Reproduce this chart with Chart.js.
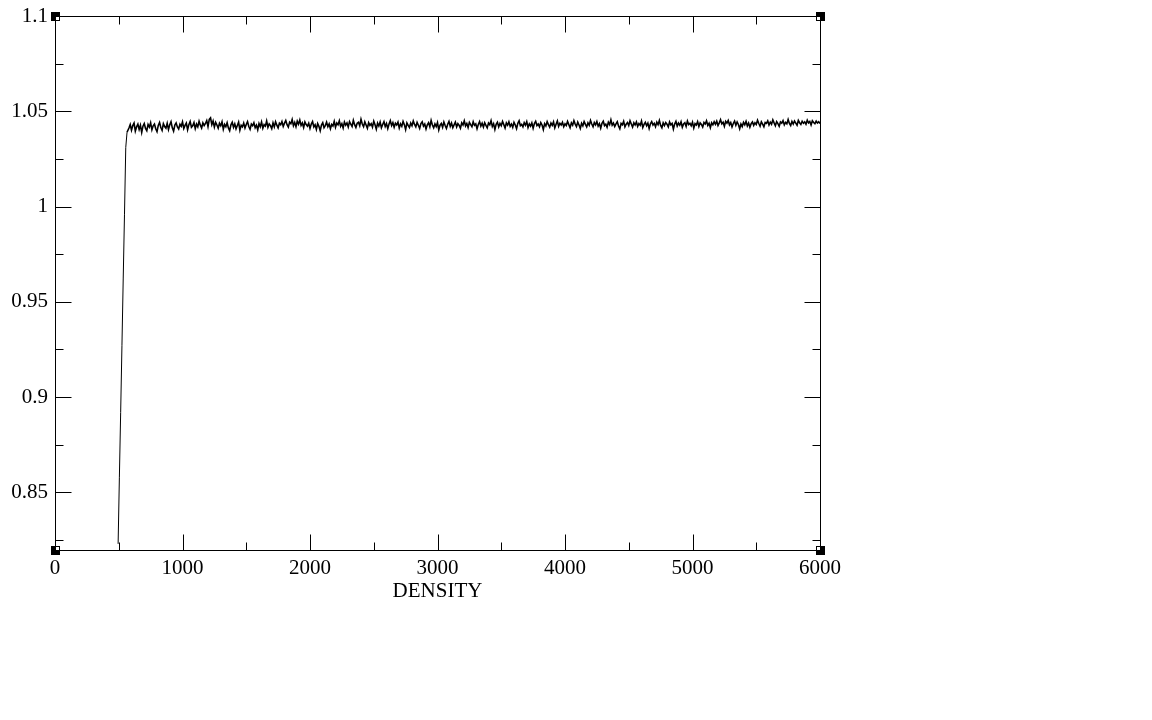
<!DOCTYPE html>
<html>
<head>
<meta charset="utf-8">
<script src="https://cdn.jsdelivr.net/npm/chart.js@4/dist/chart.umd.min.js"></script>
<style>
  html, body { margin: 0; padding: 0; background: #fff; }
  #wrap { width: 1152px; height: 720px; }
</style>
</head>
<body>
<div id="wrap"><canvas id="c" width="1152" height="720"></canvas></div>
<script>
// ---- data ----
const riseDensity = [495, 505, 515, 525, 535, 545, 555, 565];
const riseValue   = [0.823, 0.858, 0.892, 0.927, 0.962, 0.996, 1.031, 1.039];

const plateauDensity = [
  580,590,600,610,620,630,640,650,660,670,
  680,690,700,710,720,730,740,750,760,770,
  780,790,800,810,820,830,840,850,860,870,
  880,890,900,910,920,930,940,950,960,970,
  980,990,1000,1010,1020,1030,1040,1050,1060,1070,
  1080,1090,1100,1110,1120,1130,1140,1150,1160,1170,
  1180,1190,1200,1210,1220,1230,1240,1250,1260,1270,
  1280,1290,1300,1310,1320,1330,1340,1350,1360,1370,
  1380,1390,1400,1410,1420,1430,1440,1450,1460,1470,
  1480,1490,1500,1510,1520,1530,1540,1550,1560,1570,
  1580,1590,1600,1610,1620,1630,1640,1650,1660,1670,
  1680,1690,1700,1710,1720,1730,1740,1750,1760,1770,
  1780,1790,1800,1810,1820,1830,1840,1850,1860,1870,
  1880,1890,1900,1910,1920,1930,1940,1950,1960,1970,
  1980,1990,2000,2010,2020,2030,2040,2050,2060,2070,
  2080,2090,2100,2110,2120,2130,2140,2150,2160,2170,
  2180,2190,2200,2210,2220,2230,2240,2250,2260,2270,
  2280,2290,2300,2310,2320,2330,2340,2350,2360,2370,
  2380,2390,2400,2410,2420,2430,2440,2450,2460,2470,
  2480,2490,2500,2510,2520,2530,2540,2550,2560,2570,
  2580,2590,2600,2610,2620,2630,2640,2650,2660,2670,
  2680,2690,2700,2710,2720,2730,2740,2750,2760,2770,
  2780,2790,2800,2810,2820,2830,2840,2850,2860,2870,
  2880,2890,2900,2910,2920,2930,2940,2950,2960,2970,
  2980,2990,3000,3010,3020,3030,3040,3050,3060,3070,
  3080,3090,3100,3110,3120,3130,3140,3150,3160,3170,
  3180,3190,3200,3210,3220,3230,3240,3250,3260,3270,
  3280,3290,3300,3310,3320,3330,3340,3350,3360,3370,
  3380,3390,3400,3410,3420,3430,3440,3450,3460,3470,
  3480,3490,3500,3510,3520,3530,3540,3550,3560,3570,
  3580,3590,3600,3610,3620,3630,3640,3650,3660,3670,
  3680,3690,3700,3710,3720,3730,3740,3750,3760,3770,
  3780,3790,3800,3810,3820,3830,3840,3850,3860,3870,
  3880,3890,3900,3910,3920,3930,3940,3950,3960,3970,
  3980,3990,4000,4010,4020,4030,4040,4050,4060,4070,
  4080,4090,4100,4110,4120,4130,4140,4150,4160,4170,
  4180,4190,4200,4210,4220,4230,4240,4250,4260,4270,
  4280,4290,4300,4310,4320,4330,4340,4350,4360,4370,
  4380,4390,4400,4410,4420,4430,4440,4450,4460,4470,
  4480,4490,4500,4510,4520,4530,4540,4550,4560,4570,
  4580,4590,4600,4610,4620,4630,4640,4650,4660,4670,
  4680,4690,4700,4710,4720,4730,4740,4750,4760,4770,
  4780,4790,4800,4810,4820,4830,4840,4850,4860,4870,
  4880,4890,4900,4910,4920,4930,4940,4950,4960,4970,
  4980,4990,5000,5010,5020,5030,5040,5050,5060,5070,
  5080,5090,5100,5110,5120,5130,5140,5150,5160,5170,
  5180,5190,5200,5210,5220,5230,5240,5250,5260,5270,
  5280,5290,5300,5310,5320,5330,5340,5350,5360,5370,
  5380,5390,5400,5410,5420,5430,5440,5450,5460,5470,
  5480,5490,5500,5510,5520,5530,5540,5550,5560,5570,
  5580,5590,5600,5610,5620,5630,5640,5650,5660,5670,
  5680,5690,5700,5710,5720,5730,5740,5750,5760,5770,
  5780,5790,5800,5810,5820,5830,5840,5850,5860,5870,
  5880,5890,5900,5910,5920,5930,5940,5950,5960,5970,
  5980,5990,6000
];
const plateauValue = [
  1.0412,1.0430,1.0401,1.0425,1.0438,1.0396,1.0419,1.0433,1.0405,1.0427,
  1.0389,1.0422,1.0436,1.0410,1.0398,1.0431,1.0417,1.0440,1.0403,1.0424,
  1.0433,1.0408,1.0393,1.0426,1.0441,1.0415,1.0400,1.0435,1.0420,1.0411,
  1.0437,1.0404,1.0429,1.0445,1.0413,1.0396,1.0428,1.0439,1.0418,1.0407,
  1.0432,1.0421,1.0444,1.0410,1.0426,1.0438,1.0403,1.0430,1.0447,1.0416,
  1.0424,1.0441,1.0409,1.0433,1.0419,1.0448,1.0427,1.0412,1.0439,1.0425,
  1.0436,1.0451,1.0420,1.0458,1.0466,1.0430,1.0449,1.0417,1.0442,1.0428,
  1.0411,1.0437,1.0424,1.0445,1.0406,1.0431,1.0419,1.0440,1.0413,1.0398,
  1.0429,1.0442,1.0416,1.0434,1.0408,1.0425,1.0443,1.0401,1.0427,1.0418,
  1.0438,1.0412,1.0431,1.0446,1.0420,1.0405,1.0433,1.0424,1.0440,1.0414,
  1.0427,1.0403,1.0436,1.0419,1.0444,1.0411,1.0430,1.0422,1.0449,1.0416,
  1.0434,1.0425,1.0409,1.0439,1.0418,1.0445,1.0427,1.0413,1.0437,1.0429,
  1.0446,1.0421,1.0438,1.0452,1.0430,1.0417,1.0443,1.0435,1.0457,1.0424,
  1.0441,1.0419,1.0448,1.0432,1.0454,1.0426,1.0439,1.0415,1.0444,1.0430,
  1.0422,1.0437,1.0410,1.0433,1.0446,1.0418,1.0429,1.0405,1.0436,1.0421,
  1.0398,1.0428,1.0440,1.0414,1.0425,1.0443,1.0419,1.0434,1.0408,1.0431,
  1.0423,1.0447,1.0416,1.0438,1.0429,1.0450,1.0421,1.0435,1.0412,1.0444,
  1.0427,1.0439,1.0418,1.0446,1.0432,1.0420,1.0453,1.0430,1.0415,1.0437,
  1.0442,1.0424,1.0458,1.0433,1.0419,1.0445,1.0428,1.0411,1.0440,1.0426,
  1.0435,1.0417,1.0448,1.0429,1.0406,1.0438,1.0423,1.0444,1.0414,1.0431,
  1.0446,1.0420,1.0436,1.0409,1.0433,1.0451,1.0425,1.0440,1.0416,1.0437,
  1.0428,1.0443,1.0412,1.0434,1.0421,1.0447,1.0430,1.0404,1.0439,1.0426,
  1.0415,1.0438,1.0424,1.0449,1.0431,1.0418,1.0442,1.0427,1.0410,1.0436,
  1.0445,1.0422,1.0433,1.0407,1.0429,1.0440,1.0419,1.0452,1.0428,1.0413,
  1.0434,1.0420,1.0441,1.0403,1.0427,1.0436,1.0416,1.0444,1.0425,1.0410,
  1.0432,1.0447,1.0421,1.0438,1.0414,1.0429,1.0443,1.0418,1.0435,1.0426,
  1.0411,1.0439,1.0428,1.0450,1.0423,1.0436,1.0415,1.0442,1.0430,1.0419,
  1.0445,1.0427,1.0434,1.0408,1.0431,1.0446,1.0422,1.0437,1.0417,1.0440,
  1.0426,1.0413,1.0438,1.0429,1.0451,1.0420,1.0435,1.0405,1.0432,1.0443,
  1.0418,1.0436,1.0424,1.0447,1.0430,1.0412,1.0439,1.0427,1.0445,1.0421,
  1.0433,1.0416,1.0442,1.0428,1.0409,1.0437,1.0450,1.0424,1.0431,1.0418,
  1.0440,1.0427,1.0446,1.0415,1.0434,1.0422,1.0439,1.0411,1.0436,1.0448,
  1.0425,1.0433,1.0419,1.0441,1.0428,1.0404,1.0435,1.0423,1.0446,1.0430,
  1.0417,1.0438,1.0426,1.0444,1.0413,1.0432,1.0449,1.0421,1.0437,1.0428,
  1.0442,1.0419,1.0434,1.0425,1.0447,1.0430,1.0414,1.0439,1.0427,1.0451,
  1.0433,1.0420,1.0443,1.0428,1.0410,1.0437,1.0424,1.0446,1.0431,1.0418,
  1.0439,1.0426,1.0452,1.0433,1.0419,1.0441,1.0429,1.0446,1.0422,1.0435,
  1.0411,1.0437,1.0448,1.0425,1.0432,1.0416,1.0443,1.0430,1.0455,1.0427,
  1.0438,1.0420,1.0434,1.0445,1.0423,1.0408,1.0436,1.0429,1.0447,1.0418,
  1.0432,1.0441,1.0425,1.0450,1.0433,1.0417,1.0440,1.0428,1.0444,1.0421,
  1.0436,1.0427,1.0449,1.0415,1.0431,1.0442,1.0424,1.0438,1.0410,1.0434,
  1.0446,1.0428,1.0437,1.0419,1.0443,1.0430,1.0452,1.0426,1.0413,1.0439,
  1.0425,1.0441,1.0432,1.0418,1.0444,1.0429,1.0436,1.0407,1.0433,1.0447,
  1.0422,1.0438,1.0427,1.0445,1.0416,1.0434,1.0440,1.0421,1.0449,1.0430,
  1.0437,1.0424,1.0443,1.0412,1.0435,1.0428,1.0446,1.0420,1.0439,1.0431,
  1.0417,1.0441,1.0433,1.0450,1.0426,1.0437,1.0414,1.0440,1.0429,1.0445,
  1.0432,1.0448,1.0425,1.0439,1.0456,1.0434,1.0443,1.0421,1.0447,1.0438,
  1.0452,1.0429,1.0441,1.0418,1.0436,1.0449,1.0427,1.0444,1.0431,1.0408,
  1.0433,1.0420,1.0442,1.0429,1.0447,1.0423,1.0438,1.0416,1.0435,1.0444,
  1.0426,1.0440,1.0431,1.0453,1.0436,1.0422,1.0445,1.0433,1.0419,1.0441,
  1.0437,1.0450,1.0428,1.0443,1.0432,1.0455,1.0439,1.0424,1.0446,1.0435,
  1.0421,1.0444,1.0438,1.0451,1.0429,1.0442,1.0434,1.0457,1.0436,1.0425,
  1.0447,1.0433,1.0449,1.0438,1.0427,1.0452,1.0440,1.0431,1.0448,1.0437,
  1.0444,1.0432,1.0453,1.0439,1.0446,1.0428,1.0450,1.0441,1.0435,1.0448,
  1.0438,1.0445,1.0436
];

const xTicks = [0, 1000, 2000, 3000, 4000, 5000, 6000];
const xMinorTicks = [500, 1500, 2500, 3500, 4500, 5500];
const yTicks = [0.85, 0.9, 0.95, 1, 1.05, 1.1];
const yMinorTicks = [0.825, 0.875, 0.925, 0.975, 1.025, 1.075];
const xTitle = 'DENSITY';

// ---- build ----
const points = [];
riseDensity.forEach((d, i) => points.push({ x: d, y: riseValue[i] }));
plateauDensity.forEach((d, i) => points.push({ x: d, y: plateauValue[i] }));

const FONT = { family: "'Liberation Serif', 'DejaVu Serif', serif", size: 21 };

const framePlugin = {
  id: 'frame',
  afterDraw(chart) {
    const { ctx, chartArea: a, scales: { x, y } } = chart;
    ctx.save();
    ctx.strokeStyle = '#000';
    ctx.lineWidth = 1;
    const L = Math.round(a.left) + 0.5, R = Math.round(a.right) + 0.5;
    const T = Math.round(a.top) + 0.5, B = Math.round(a.bottom) + 0.5;
    ctx.strokeRect(L, T, R - L, B - T);
    ctx.beginPath();
    const xt = (v, len) => {
      const p = Math.round(x.getPixelForValue(v)) + 0.5;
      ctx.moveTo(p, B); ctx.lineTo(p, B - len);
      ctx.moveTo(p, T); ctx.lineTo(p, T + len);
    };
    const yt = (v, len) => {
      const p = Math.round(y.getPixelForValue(v)) + 0.5;
      ctx.moveTo(L, p); ctx.lineTo(L + len, p);
      ctx.moveTo(R, p); ctx.lineTo(R - len, p);
    };
    xTicks.forEach(v => xt(v, 16));
    xMinorTicks.forEach(v => xt(v, 8));
    yTicks.forEach(v => yt(v, 16));
    yMinorTicks.forEach(v => yt(v, 8));
    ctx.stroke();
    // corner handles
    const corners = [
      [Math.round(a.left), Math.round(a.top), 1, 1],
      [Math.round(a.right), Math.round(a.top), -1, 1],
      [Math.round(a.left), Math.round(a.bottom), 1, -1],
      [Math.round(a.right), Math.round(a.bottom), -1, -1]
    ];
    corners.forEach(([cx, cy, sx, sy]) => {
      ctx.fillStyle = '#000';
      ctx.fillRect(cx - 4, cy - 4, 9, 9);
      ctx.fillStyle = '#fff';
      ctx.fillRect(sx > 0 ? cx + 1 : cx - 3, sy > 0 ? cy + 1 : cy - 3, 3, 3);
    });
    ctx.restore();
  }
};

new Chart(document.getElementById('c'), {
  type: 'line',
  data: {
    datasets: [{
      data: points,
      borderColor: '#000',
      borderWidth: 1,
      pointRadius: 0,
      tension: 0,
      fill: false,
      segment: {
        borderWidth: ctx => (ctx.p0.parsed.x >= riseDensity[riseDensity.length - 1] ? 1.6 : 1)
      }
    }]
  },
  options: {
    responsive: false,
    animation: false,
    devicePixelRatio: 1,
    layout: { padding: { left: 0, right: 332, top: 16, bottom: 112 } },
    plugins: { legend: { display: false }, tooltip: { enabled: false } },
    scales: {
      x: {
        type: 'linear',
        min: 0, max: 6000,
        grid: { display: false, drawTicks: false },
        border: { display: false },
        afterBuildTicks: s => { s.ticks = xTicks.map(v => ({ value: v })); },
        ticks: { color: '#000', font: FONT, padding: 6, maxRotation: 0, autoSkip: false,
                 callback: v => String(v) },
        title: { display: true, text: xTitle, color: '#000', font: FONT, padding: { top: -8, bottom: 4 } }
      },
      y: {
        type: 'linear',
        min: 0.82, max: 1.1,
        grid: { display: false, drawTicks: false },
        border: { display: false },
        afterBuildTicks: s => { s.ticks = yTicks.map(v => ({ value: v })); },
        afterFit: s => { s.width = 55; s.paddingTop = 0; s.paddingBottom = 0; },
        ticks: { color: '#000', font: FONT, padding: 7, autoSkip: false,
                 callback: v => String(v) }
      }
    }
  },
  plugins: [framePlugin]
});
</script>
</body>
</html>
